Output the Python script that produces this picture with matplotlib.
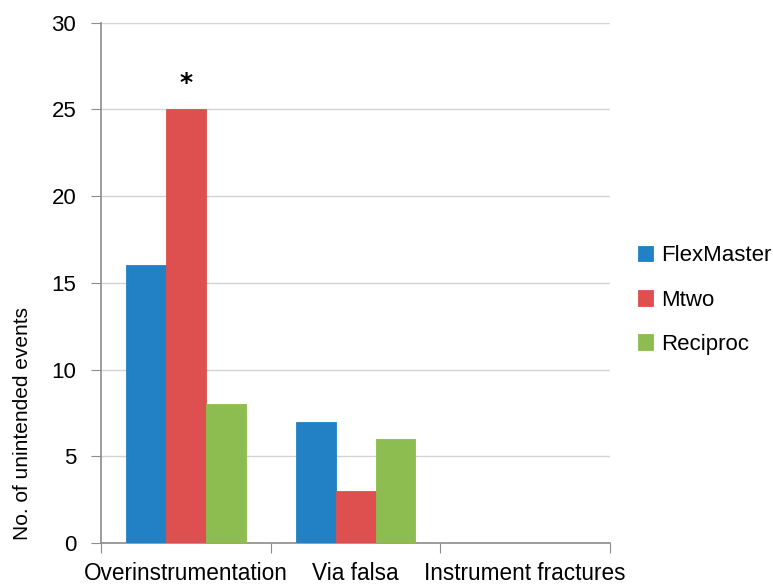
import numpy as np
import matplotlib.pyplot as plt

plt.rcParams['font.family'] = ['Liberation Sans', 'DejaVu Sans']

# 数据
categories = ['Overinstrumentation', 'Via falsa', 'Instrument fractures']
series_names = ['FlexMaster', 'Mtwo', 'Reciproc']
flexmaster = [16, 7, 0]
mtwo = [25, 3, 0]
reciproc = [8, 6, 0]
colors = ['#2281C4', '#DE5050', '#8DBD50']

fig = plt.figure(figsize=(7.73, 5.86), dpi=100)
ax = fig.add_axes([0.131, 0.0734, 0.658, 0.888])

x = np.arange(len(categories))
width = 0.235
for i, (vals, name, c) in enumerate(zip([flexmaster, mtwo, reciproc], series_names, colors)):
    ax.bar(x + (i - 1) * width, vals, width, color=c, label=name,
           edgecolor=c, linewidth=0.6, zorder=3)

# 显著性标记
ax.text(x[0], 25.8, '*', ha='center', va='bottom', fontsize=18, fontweight='bold',
        family='DejaVu Sans')

ax.set_xlim(-0.5, len(categories) - 0.5)
ax.set_ylim(0, 30)
ax.set_yticks(range(0, 31, 5))
ax.yaxis.grid(True, color='#D4D4D4', linewidth=1, zorder=0)
ax.tick_params(axis='y', labelsize=16, length=7, color='#8C8C8C', pad=11)

# x轴刻度放在类别边界上
ax.set_xticks(np.arange(-0.5, len(categories), 1.0))
ax.set_xticklabels([])
ax.set_xticks(x, minor=True)
ax.set_xticklabels(categories, minor=True, fontsize=16.3)
ax.tick_params(axis='x', which='major', length=7, color='#8C8C8C')
ax.tick_params(axis='x', which='minor', length=0, pad=14)

for s in ['top', 'right']:
    ax.spines[s].set_visible(False)
for s in ['left', 'bottom']:
    ax.spines[s].set_color('#8C8C8C')
    ax.spines[s].set_linewidth(1.2)

ax.set_ylabel('No. of unintended events', fontsize=15)
ax.yaxis.set_label_coords(-0.136, 0.229)

ax.legend(loc='center left', bbox_to_anchor=(0.825, 0.488), bbox_transform=fig.transFigure,
          frameon=False, fontsize=16, handlelength=0.7, handleheight=0.7,
          labelspacing=1.05, handletextpad=0.35, borderaxespad=0, borderpad=0)

fig.savefig('out.png', dpi=100)
